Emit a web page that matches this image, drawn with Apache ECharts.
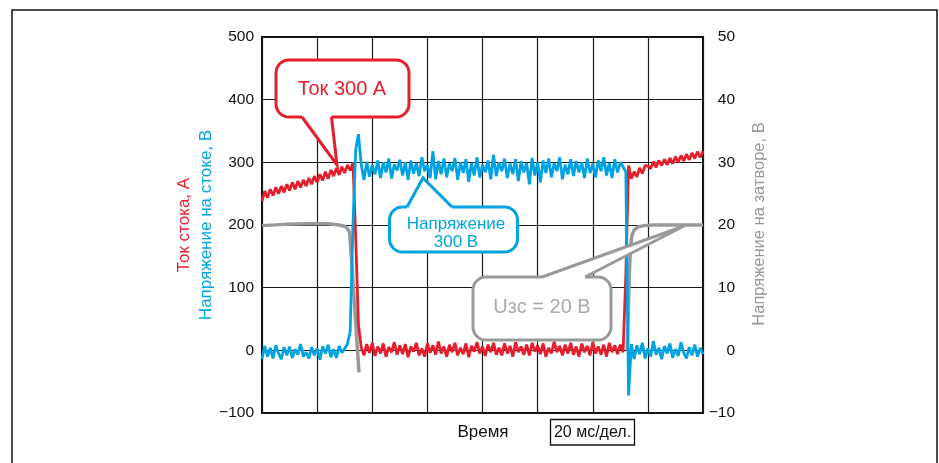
<!DOCTYPE html>
<html>
<head>
<meta charset="utf-8">
<style>
html,body{margin:0;padding:0;background:#fff;}
#chart{width:939px;height:463px;}
</style>
<script src="https://cdn.jsdelivr.net/npm/echarts@6/dist/echarts.min.js"></script>
</head>
<body>
<div id="chart"></div>
<script>
// Time grid, ms (1 ms sampling, 20 ms per division, 8 divisions)
const timeMs = Array.from({length: 161}, (_, i) => i);

// Drain current, A (left axis)
const drainCurrent = [
  238, 254, 244, 257, 247, 260, 250, 262, 252, 265,
  255, 268, 257, 270, 260, 272, 262, 275, 265, 278,
  268, 281, 271, 285, 274, 288, 278, 291, 280, 293,
  283, 296, 287, 300, 180, 40, 5, -8, 10, -4,
  12, -9, 6, -5, 11, -10, 5, -3, 13, -7,
  8, -6, 10, -11, 6, -2, 12, -8, 3, -10,
  11, -4, 8, -7, 14, -5, 6, -10, 9, -3,
  12, -8, 4, -6, 11, -11, 7, -2, 13, -5,
  6, -9, 9, -3, 12, -7, 4, -8, 11, -5,
  7, -10, 13, -3, 6, -7, 9, -8, 12, -2,
  8, -6, 11, -10, 4, -5, 14, -3, 7, -8,
  9, -5, 12, -7, 6, -10, 11, -3, 7, -8,
  13, -5, 6, -7, 9, -10, 12, -3, 8, -6,
  9, -3, 120, 295, 274, 285, 277, 291, 282, 295,
  294, 290, 301, 292, 303, 295, 305, 296, 307, 298,
  309, 300, 311, 302, 313, 304, 315, 306, 317, 308,
  318
];

// Drain voltage, V (left axis)
const drainVoltage = [
  -14, 7, -10, 4, -13, 8, -5, -14, 5, -8,
  6, -12, 2, -7, 10, -10, -3, -13, 5, -8,
  3, -15, 6, -5, 9, -11, 2, -12, 7, -4,
  3, 10, 30, 200, 320, 345, 296, 272, 301, 277,
  296, 281, 303, 275, 300, 284, 306, 274, 297, 287,
  304, 279, 300, 272, 303, 282, 299, 278, 308, 286,
  296, 275, 318, 273, 302, 281, 306, 276, 298, 286,
  307, 272, 300, 283, 305, 269, 299, 279, 308, 276,
  296, 284, 303, 273, 312, 278, 300, 286, 306, 275,
  298, 281, 305, 270, 302, 284, 299, 265, 307, 279,
  300, 268, 303, 283, 306, 276, 299, 286, 308, 273,
  296, 281, 305, 278, 302, 284, 300, 275, 306, 283,
  298, 276, 303, 286, 308, 279, 299, 275, 305, 284,
  300, 293, 285, -72, 10, -14, 8, -6, 12, -13,
  3, -10, 15, -7, 4, -14, 7, -5, 11, -12,
  2, -9, 13, -4, -13, 5, -8, 9, -10, 4,
  -6
];

// Gate voltage, V (right axis)
const gateTime = [0, 8, 16, 24, 28, 30, 31, 31.8, 32.5, 33.5, 34.5, 35.2, 35.3,
  132.5, 132.9, 133.3, 133.7, 134.2, 135, 136.5, 138.5, 142, 150, 160];
const gateVoltage = [19.9, 20.1, 20.2, 20.2, 20.0, 19.8, 19.4, 18.8, 14.5, 7.8, 1.0, -3.5, null,
  0, 6, 12.5, 16.5, 18.3, 19.2, 19.7, 19.9, 20.0, 20.0, 20.0];

const leftTicks = [-100, 0, 100, 200, 300, 400, 500];
const rightTicks = [-10, 0, 10, 20, 30, 40, 50];

const RED = '#e61e2b';
const BLUE = '#00a3e2';
const GRAY = '#999999';
const FONT = '"Liberation Sans", Arial, sans-serif';

const fmt = v => (v < 0 ? '\u2212' + Math.abs(v) : String(v));

function callout(color, rect, tail, texts, textColor, fontSize) {
  const els = [];
  els.push({type: 'rect', z: 100, shape: {x: rect[0], y: rect[1], width: rect[2], height: rect[3], r: 13},
    style: {fill: '#fff', stroke: color, lineWidth: 3}});
  const [b1, tip, b2, dir] = tail;
  els.push({type: 'polygon', z: 101, shape: {points: [[b1[0], b1[1] + dir * 3], b1, tip, b2, [b2[0], b2[1] + dir * 3]]},
    style: {fill: '#fff', stroke: null}});
  els.push({type: 'polyline', z: 102, shape: {points: [b1, tip, b2]},
    style: {fill: null, stroke: color, lineWidth: 3, lineJoin: 'miter'}});
  texts.forEach(t => {
    els.push({type: 'text', z: 103, x: t[1], y: t[2],
      style: {text: t[0], fill: textColor, font: fontSize + 'px ' + FONT, textAlign: 'center', textVerticalAlign: 'middle'}});
  });
  return els;
}

const chart = echarts.init(document.getElementById('chart'), null, {renderer: 'canvas'});

const graphics = [
  {type: 'rect', z: 0, shape: {x: 12, y: 10, width: 925, height: 480},
    style: {fill: null, stroke: '#111', lineWidth: 1.5}},
  {type: 'text', x: 184, y: 225, rotation: Math.PI / 2,
    style: {text: 'Ток стока, А', fill: RED, font: '17px ' + FONT, textAlign: 'center', textVerticalAlign: 'middle'}},
  {type: 'text', x: 206, y: 225, rotation: Math.PI / 2,
    style: {text: 'Напряжение на стоке, В', fill: BLUE, font: '17px ' + FONT, textAlign: 'center', textVerticalAlign: 'middle'}},
  {type: 'text', x: 759, y: 224, rotation: Math.PI / 2,
    style: {text: 'Напряжение на затворе, В', fill: GRAY, font: '16.5px ' + FONT, textAlign: 'center', textVerticalAlign: 'middle'}},
  {type: 'text', x: 483, y: 432,
    style: {text: 'Время', fill: '#111', font: '17px ' + FONT, textAlign: 'center', textVerticalAlign: 'middle'}},
  {type: 'rect', shape: {x: 550.5, y: 419.5, width: 84, height: 25.5},
    style: {fill: '#fff', stroke: '#111', lineWidth: 1.3}},
  {type: 'text', x: 592.5, y: 432.5,
    style: {text: '20 мс/дел.', fill: '#111', font: '16px ' + FONT, textAlign: 'center', textVerticalAlign: 'middle'}}
]
  .concat(callout(RED, [276, 60, 133, 57], [[302, 117], [337, 165], [331.5, 117], -1],
    [['Ток 300 А', 342, 89]], RED, 20))
  .concat(callout(BLUE, [389.5, 207, 128, 45], [[407, 207], [423, 178], [452, 207], 1],
    [['Напряжение', 456, 224], ['300 В', 456, 242]], BLUE, 17))
  .concat(callout(GRAY, [473, 277, 138, 63], [[542, 277], [684, 226], [585, 277], 1],
    [['Uзс = 20 В', 542, 307]], '#aaaaaa', 20));

chart.setOption({
  animation: false,
  backgroundColor: '#fff',
  grid: {left: 262, top: 37, width: 441, height: 376, show: true, borderColor: '#111', borderWidth: 2, backgroundColor: 'transparent'},
  xAxis: {
    type: 'value', min: 0, max: 160, interval: 20,
    axisLine: {show: false}, axisTick: {show: false}, axisLabel: {show: false},
    splitLine: {show: true, lineStyle: {color: '#1a1a1a', width: 1.2}}
  },
  yAxis: [
    {
      type: 'value', min: leftTicks[0], max: leftTicks[leftTicks.length - 1], interval: 100, position: 'left',
      axisLine: {show: false}, axisTick: {show: false},
      axisLabel: {formatter: fmt, color: '#111', fontSize: 15.5, fontFamily: FONT, margin: 8},
      splitLine: {show: true, lineStyle: {color: '#1a1a1a', width: 1.2}}
    },
    {
      type: 'value', min: rightTicks[0], max: rightTicks[rightTicks.length - 1], interval: 10, position: 'right',
      axisLine: {show: false}, axisTick: {show: false},
      axisLabel: {formatter: fmt, color: '#111', fontSize: 15.5, fontFamily: FONT, margin: 32, align: 'right'},
      splitLine: {show: false}
    }
  ],
  series: [
    {
      type: 'line', yAxisIndex: 1, showSymbol: false, silent: true, connectNulls: false,
      data: gateTime.map((t, i) => [t, gateVoltage[i]]),
      lineStyle: {color: GRAY, width: 3.5}, itemStyle: {color: GRAY}, z: 3
    },
    {
      type: 'line', yAxisIndex: 0, showSymbol: false, silent: true,
      data: timeMs.map((t, i) => [t, drainCurrent[i]]),
      lineStyle: {color: RED, width: 2.8}, itemStyle: {color: RED}, z: 4
    },
    {
      type: 'line', yAxisIndex: 0, showSymbol: false, silent: true,
      data: timeMs.map((t, i) => [t, drainVoltage[i]]),
      lineStyle: {color: BLUE, width: 2.8}, itemStyle: {color: BLUE}, z: 5
    }
  ],
  graphic: graphics
});
</script>
</body>
</html>
